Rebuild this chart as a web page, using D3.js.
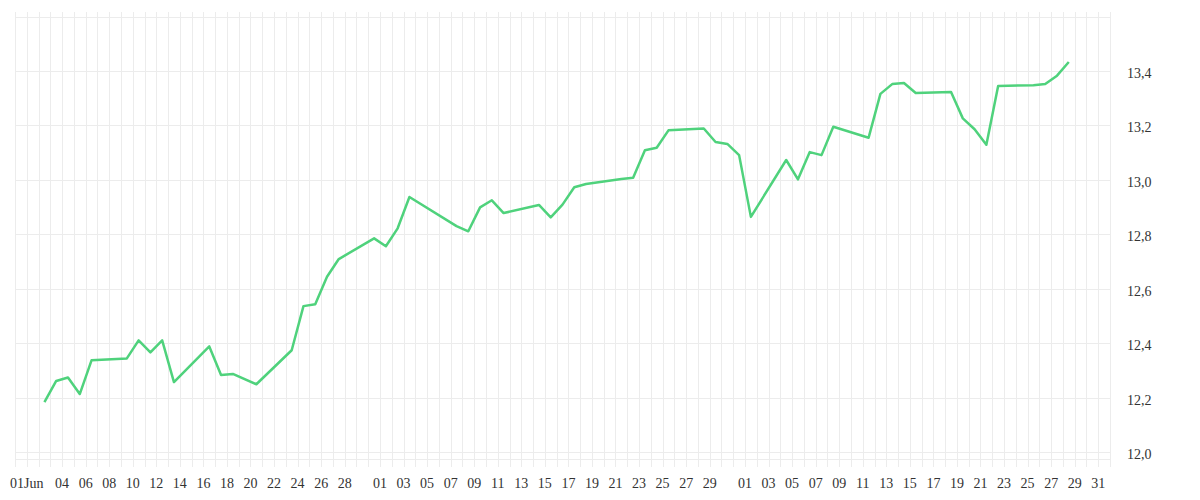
<!DOCTYPE html>
<html>
<head>
<meta charset="utf-8">
<script src="https://cdn.jsdelivr.net/npm/d3@7"></script>
<style>
    body { margin: 0; background: #fff; }
    .chart text { font-family: "Liberation Serif", serif; font-size: 14px; fill: #333; }
</style>
</head>
<body>
<div class="Chart"></div>
<script>
// trading days (one close per day) and their prices
const dates = [
    "2025-06-02", "2025-06-03", "2025-06-04", "2025-06-05", "2025-06-06",
    "2025-06-09", "2025-06-10", "2025-06-11", "2025-06-12", "2025-06-13",
    "2025-06-16", "2025-06-17", "2025-06-18", "2025-06-20",
    "2025-06-23", "2025-06-24", "2025-06-25", "2025-06-26", "2025-06-27",
    "2025-06-30", "2025-07-01", "2025-07-02", "2025-07-03",
    "2025-07-07", "2025-07-08", "2025-07-09", "2025-07-10", "2025-07-11",
    "2025-07-14", "2025-07-15", "2025-07-16", "2025-07-17", "2025-07-18",
    "2025-07-21", "2025-07-22", "2025-07-23", "2025-07-24", "2025-07-25",
    "2025-07-28", "2025-07-29", "2025-07-30", "2025-07-31", "2025-08-01",
    "2025-08-04", "2025-08-05", "2025-08-06", "2025-08-07", "2025-08-08",
    "2025-08-11", "2025-08-12", "2025-08-13", "2025-08-14", "2025-08-15",
    "2025-08-18", "2025-08-19", "2025-08-20", "2025-08-21", "2025-08-22",
    "2025-08-25", "2025-08-26", "2025-08-27", "2025-08-28"
];
const prices = [
    12.183, 12.261, 12.274, 12.213, 12.337,
    12.344, 12.410, 12.366, 12.410, 12.257,
    12.388, 12.283, 12.287, 12.249,
    12.374, 12.536, 12.543, 12.644, 12.709,
    12.785, 12.756, 12.822, 12.937,
    12.830, 12.811, 12.899, 12.925, 12.878,
    12.908, 12.862, 12.909, 12.973, 12.985,
    13.003, 13.008, 13.109, 13.118, 13.182,
    13.189, 13.139, 13.132, 13.091, 12.864,
    13.073, 13.002, 13.102, 13.091, 13.195,
    13.155, 13.316, 13.352, 13.356, 13.319,
    13.323, 13.226, 13.186, 13.129, 13.345,
    13.348, 13.352, 13.383, 13.433
];

// x tick labels: day of month per month
const junTicks = [1, 4, 6, 8, 10, 12, 14, 16, 18, 20, 22, 24, 26, 28];
const julTicks = [1, 3, 5, 7, 9, 11, 13, 15, 17, 19, 21, 23, 25, 27, 29];
const augTicks = [1, 3, 5, 7, 9, 11, 13, 15, 17, 19, 21, 23, 25, 27, 29, 31];
const yTicks = [12.0, 12.2, 12.4, 12.6, 12.8, 13.0, 13.2, 13.4, 13.6];
const yLabelTicks = [12.0, 12.2, 12.4, 12.6, 12.8, 13.0, 13.2, 13.4];

const parse = d3.timeParse("%Y-%m-%d");
const points = dates.map((d, i) => [d3.timeHour.offset(parse(d), 12), prices[i]]);

const width = 1200, height = 500;
const margin = {left: 15, right: 1110, top: 12, bottom: 459};

const x = d3.scaleTime()
    .domain([new Date(2025, 4, 31), new Date(2025, 8, 1)])
    .range([margin.left, margin.right]);

const y = d3.scaleLinear()
    .domain([12, 13.6])
    .range([452, 16.6]);

const fmt = d3.formatLocale({decimal: ",", thousands: ".", grouping: [3], currency: ["", ""]}).format(".1f");

const svg = d3.select('.Chart')
    .append('svg')
    .attr('width', width)
    .attr('height', height)
    .attr('class', 'chart');

// daily vertical grid
svg.append('g')
    .selectAll('line')
    .data(d3.timeDay.range(x.domain()[0], d3.timeDay.offset(x.domain()[1], 1)))
    .enter().append('line')
    .attr('x1', d => Math.round(x(d)) + 0.5)
    .attr('x2', d => Math.round(x(d)) + 0.5)
    .attr('y1', margin.top)
    .attr('y2', 467)
    .attr('stroke', '#ececec')
    .attr('stroke-width', 1);

// horizontal grid
svg.append('g')
    .selectAll('line')
    .data(yTicks)
    .enter().append('line')
    .attr('x1', margin.left)
    .attr('x2', margin.right)
    .attr('y1', d => Math.round(y(d)) + 0.5)
    .attr('y2', d => Math.round(y(d)) + 0.5)
    .attr('stroke', '#ececec');

svg.append('line')
    .attr('x1', margin.left)
    .attr('x2', margin.right)
    .attr('y1', margin.bottom + 0.5)
    .attr('y2', margin.bottom + 0.5)
    .attr('stroke', '#ececec');

// y labels on the right
svg.append('g')
    .selectAll('text')
    .data(yLabelTicks)
    .enter().append('text')
    .attr('x', 1127)
    .attr('y', d => y(d))
    .attr('dy', '0.5em')
    .text(d => fmt(d));

// x labels
const xTicks = [
    ...junTicks.map(d => new Date(2025, 5, d)),
    ...julTicks.map(d => new Date(2025, 6, d)),
    ...augTicks.map(d => new Date(2025, 7, d))
];

svg.append('g')
    .selectAll('text')
    .data(xTicks)
    .enter().append('text')
    .attr('x', d => x(d))
    .attr('y', 488)
    .attr('text-anchor', 'middle')
    .text((d, i) => i === 0 ? d3.timeFormat("%d%b")(d) : d3.timeFormat("%d")(d));

// price line
const line = d3.line()
    .x(d => x(d[0]))
    .y(d => y(d[1]));

svg.append('path')
    .datum(points)
    .attr('d', line)
    .attr('fill', 'none')
    .attr('stroke', '#4fd27c')
    .attr('stroke-width', 2.5)
    .attr('stroke-linejoin', 'round');
</script>
</body>
</html>
